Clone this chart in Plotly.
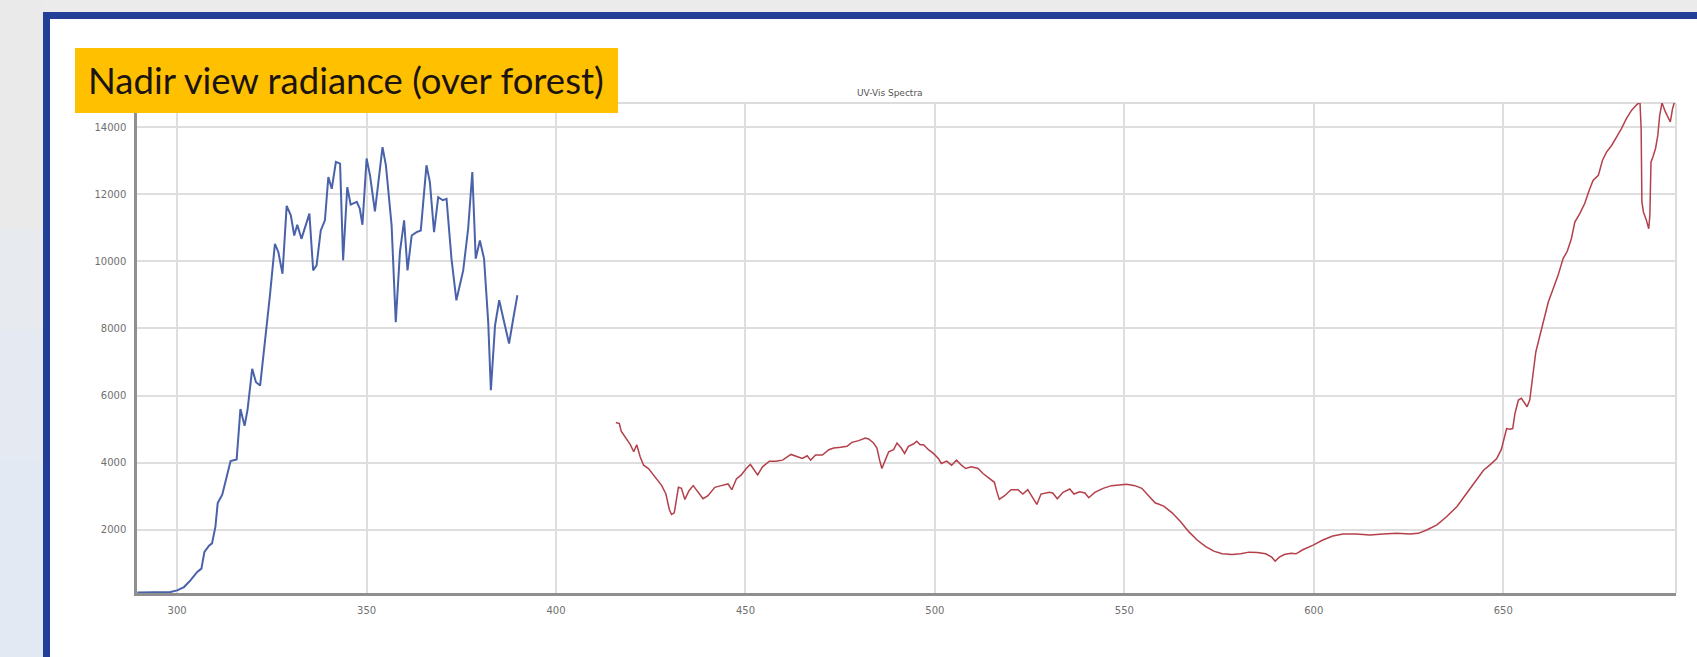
import plotly.graph_objects as go

# ---- spectra -------------------------------------------------------------
# UV channel (nm, counts)
uv_nm = [289.5, 292, 295, 298.2, 300, 301.8, 303.5, 305.3, 306.4, 307.2,
         308.4, 309.2, 310.1, 310.7, 311.9, 313.2, 314.1, 315.7, 316.7, 317.8,
         318.6, 319.8, 320.8, 321.9, 322.8, 323.6, 324.5, 325.8, 326.7, 327.8,
         328.9, 330.0, 330.9, 331.7, 332.8, 334.9, 335.9, 336.8, 337.9, 339.0,
         339.9, 340.8, 341.9, 343.0, 343.8, 344.9, 345.8, 347.4, 348.2, 348.9,
         350.0, 350.9, 352.2, 354.2, 355.1, 356.6, 357.7, 358.8, 359.9, 360.8,
         361.9, 363.2, 364.3, 365.8, 366.7, 367.8, 368.9, 370.1, 371.1, 372.4,
         373.7, 375.5, 376.8, 377.9, 378.8, 379.9, 381.0, 382.1, 382.8, 383.9,
         385.0, 386.1, 387.6, 388.7, 389.8]
uv_counts = [140, 140, 140, 150, 200, 300, 500, 750, 850, 1350,
             1530, 1600, 2100, 2800, 3050, 3700, 4050, 4100, 5600, 5100,
             5600, 6800, 6400, 6300, 7200, 8090, 9000, 10520, 10280, 9630,
             11650, 11370, 10770, 11090, 10670, 11420, 9730, 9880, 10920, 11220,
             12510, 12160, 12960, 12910, 10030, 12210, 11690, 11770, 11570, 11090,
             13060, 12560, 11490, 13400, 12860, 11070, 8190, 10280, 11220, 9730,
             10770, 10870, 10920, 12860, 12360, 10870, 11910, 11820, 11860, 10080,
             8840, 9730, 10970, 12660, 10080, 10620, 10080, 8190, 6160, 8090,
             8840, 8290, 7550, 8290, 8990]

# Visible channel (nm, counts)
vis_nm = [415.8, 416.7, 417.2, 418.3, 419.6, 420.5, 421.3, 422.2, 423.1, 424.4,
          426.1, 427.9, 429.0, 429.9, 430.5, 431.2, 432.3, 433.1, 434.0, 435.1,
          436.2, 437.5, 438.8, 440.1, 441.9, 443.6, 445.4, 446.4, 447.6, 448.9,
          450.2, 451.3, 452.4, 453.2, 454.5, 456.3, 458.0, 459.8, 462.0, 463.7,
          465.0, 466.3, 467.2, 468.5, 470.3, 472.0, 473.3, 475.1, 476.8, 478.1,
          479.9, 481.6, 482.5, 483.8, 484.7, 485.4, 486.0, 486.9, 487.8, 489.1,
          490.0, 491.1, 492.0, 493.0, 494.3, 495.2, 496.1, 497.0, 498.3, 499.6,
          500.9, 501.7, 503.1, 504.4, 505.7, 507.0, 508.1, 509.6, 511.4, 512.7,
          514.4, 515.7, 516.4, 517.0, 518.4, 520.1, 521.9, 523.2, 524.5, 525.8,
          526.9, 528.0, 530.2, 531.1, 532.3, 533.8, 535.6, 536.7, 538.2, 539.6,
          540.6, 542.2, 544.4, 546.6, 548.4, 550.6, 552.8, 554.6, 556.4, 558.1,
          560.4, 562.6, 564.8, 567.0, 569.2, 571.4, 573.6, 575.8, 578.5, 580.7,
          582.9, 585.1, 587.3, 588.9, 589.8, 590.9, 592.2, 594.0, 595.3, 597.1,
          599.7, 602.4, 605.0, 607.7, 611.2, 614.8, 618.3, 621.9, 625.4, 627.6,
          629.8, 632.5, 635.1, 637.8, 640.4, 643.0, 644.8, 646.5, 648.3, 649.5,
          650.4, 650.9, 651.8, 652.5, 653.1, 654.0, 654.8, 655.7, 656.3, 657.0,
          657.9, 658.6, 659.7, 661.0, 661.9, 663.2, 664.5, 665.8, 666.9, 668.0,
          668.9, 670.2, 671.5, 672.7, 673.7, 675.1, 676.2, 677.3, 678.6, 679.9,
          681.2, 682.5, 683.9, 685.2, 685.8, 686.1, 686.4, 686.6, 687.0, 687.8,
          688.4, 688.7, 689.0, 689.5, 690.2, 690.8, 691.3, 691.9, 692.8, 694.1,
          694.7, 695.2]
vis_counts = [5200, 5170, 4940, 4740, 4540, 4330, 4540, 4180, 3930, 3830,
              3570, 3320, 3070, 2610, 2460, 2510, 3270, 3240, 2910, 3170,
              3320, 3120, 2930, 3020, 3270, 3320, 3370, 3200, 3520, 3640,
              3830, 3950, 3780, 3640, 3880, 4050, 4050, 4080, 4250, 4180,
              4130, 4210, 4080, 4230, 4230, 4390, 4440, 4460, 4490, 4610,
              4660, 4740, 4710, 4590, 4440, 4080, 3830, 4080, 4330, 4390,
              4590, 4440, 4280, 4490, 4560, 4640, 4540, 4540, 4390, 4280,
              4130, 3980, 4050, 3930, 4080, 3930, 3830, 3880, 3830, 3680,
              3520, 3420, 3120, 2910, 3020, 3200, 3200, 3070, 3200, 2960,
              2760, 3070, 3120, 3100, 2930, 3120, 3220, 3070, 3140, 3100,
              2960, 3120, 3240, 3320, 3340, 3360, 3320, 3240, 3020, 2810,
              2710, 2510, 2250, 1950, 1700, 1510, 1370, 1290, 1270, 1290,
              1340, 1330, 1290, 1190, 1070, 1190, 1270, 1310, 1290, 1410,
              1540, 1700, 1820, 1880, 1880, 1850, 1880, 1900, 1880, 1900,
              2000, 2150, 2400, 2700, 3100, 3500, 3780, 3940, 4130, 4400,
              4770, 5020, 5000, 5020, 5470, 5870, 5920, 5770, 5670, 5870,
              6710, 7300, 7800, 8390, 8790, 9190, 9590, 10080, 10300, 10680,
              11170, 11420, 11720, 12120, 12410, 12560, 13010, 13260, 13450, 13700,
              13950, 14250, 14500, 14660, 14720, 14720, 13950, 11770, 11470, 11220,
              10970, 11370, 12960, 13110, 13360, 13750, 14350, 14720, 14450, 14150,
              14550, 14740]

x_ticks = [300, 350, 400, 450, 500, 550, 600, 650]
y_ticks = [2000, 4000, 6000, 8000, 10000, 12000, 14000]

assert len(uv_nm) == len(uv_counts)
assert len(vis_nm) == len(vis_counts)

# ---- page geometry (pixels) ---------------------------------------------
W, H = 1697, 657
PL, PR, PT, PB = 137, 1676, 103, 593  # plot area edges


def px(x):
    return (x - PL) / (PR - PL)


def py(y):
    return (PB - y) / (PB - PT)


def rect(x0, y0, x1, y1, color, layer="below", line=None):
    return dict(type="rect", xref="paper", yref="paper",
                x0=px(x0), x1=px(x1), y0=py(y1), y1=py(y0),
                fillcolor=color, line=line or dict(width=0), layer=layer)


fig = go.Figure()

fig.add_trace(go.Scatter(x=uv_nm, y=uv_counts, mode="lines",
                         line=dict(color="#4a62aa", width=2),
                         hoverinfo="x+y", showlegend=False))
fig.add_trace(go.Scatter(x=vis_nm, y=vis_counts, mode="lines",
                         line=dict(color="#b3404a", width=1.5),
                         hoverinfo="x+y", showlegend=False))

shapes = [
    # slide background strip on the left
    rect(0, 0, 43, 230, "#eaeaeb"),
    rect(0, 230, 43, 330, "#e7eaef"),
    rect(0, 330, 43, 460, "#e5eaf2"),
    rect(0, 460, 43, 657, "#e3e9f3"),
    # blue frame and white panel
    rect(43, 12, 1720, 680, "#223f97"),
    rect(50, 19, 1720, 680, "#ffffff"),
    # light border on top/right of the plot area
    dict(type="line", xref="paper", yref="paper", x0=0, x1=1, y0=1, y1=1,
         line=dict(color="#dcdcdc", width=2), layer="below"),
    dict(type="line", xref="paper", yref="paper", x0=1, x1=1, y0=0, y1=1,
         line=dict(color="#dcdcdc", width=2), layer="below"),
    # caption box
    rect(75, 48, 618, 113, "#ffc000", layer="above"),
]

fig.update_layout(
    width=W, height=H,
    margin=dict(l=PL, r=W - PR, t=PT, b=H - PB, pad=0),
    paper_bgcolor="#ebebeb",
    plot_bgcolor="rgba(0,0,0,0)",
    shapes=shapes,
    font=dict(family="DejaVu Sans", color="#6e6e6e", size=10),
    annotations=[
        dict(text="Nadir view radiance (over forest)", xref="paper", yref="paper",
             x=px(86), y=py(80), xanchor="left", yanchor="middle",
             showarrow=False,
             font=dict(family="Lato", size=36.5, color="#1b1410")),
        dict(text="UV-Vis Spectra", xref="paper", yref="paper",
             x=px(890), y=py(93), xanchor="center", yanchor="middle",
             showarrow=False, font=dict(family="DejaVu Sans", size=9, color="#555555")),
    ],
)

fig.update_xaxes(range=[289.4, 695.6], tickvals=x_ticks, ticks="",
                 showgrid=True, gridcolor="#dedede", gridwidth=2,
                 showline=True, linecolor="#8f8f8f", linewidth=3,
                 zeroline=False, ticklabelstandoff=6,
                 tickfont=dict(size=10, color="#707070"))
fig.update_yaxes(range=[123, 14715], tickvals=y_ticks, ticks="",
                 tickformat="d",
                 showgrid=True, gridcolor="#dedede", gridwidth=2,
                 showline=True, linecolor="#8f8f8f", linewidth=2.5,
                 zeroline=False, ticklabelstandoff=6,
                 tickfont=dict(size=10, color="#707070"))

fig.write_html("out.html")
